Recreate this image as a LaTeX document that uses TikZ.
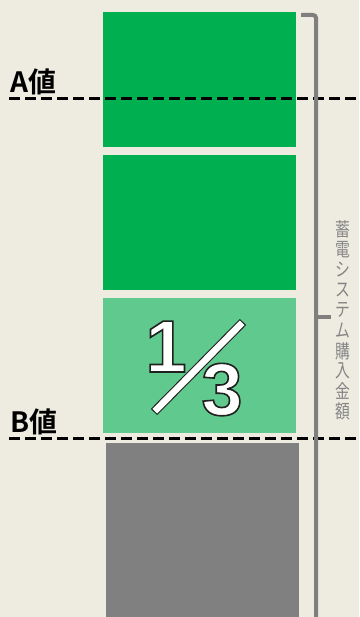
\documentclass[tikz,border=0pt]{standalone}
\usepackage{fontspec}
\setmainfont{Liberation Sans}
\newfontfamily\jpfont{Noto Sans CJK JP}[BoldFont={Noto Sans CJK JP Bold}]
\definecolor{bg}{HTML}{EEECE1}
\definecolor{darkgreen}{HTML}{00B050}
\definecolor{lightgreen}{HTML}{60C98D}
\definecolor{boxgray}{HTML}{808080}
\definecolor{brgray}{HTML}{7F7F7F}
\definecolor{txtgray}{HTML}{858585}
\definecolor{outl}{HTML}{202020}
\tikzset{
  thresh/.style={line width=3pt, black, dash pattern=on 11pt off 5pt},
  lvl/.style={inner sep=0pt, anchor=base west, font=\jpfont\bfseries\fontsize{28}{28}\selectfont},
  brace/.style={line width=4pt, brgray},
  vchar/.style={inner sep=0pt, text=txtgray, font=\jpfont\fontsize{19}{19}\selectfont},
  bigdigit/.style={inner sep=0pt, anchor=base, text=white, font=\bfseries\fontsize{74}{74}\selectfont},
}
\newcommand{\strokedtext}[1]{\special{pdf:literal direct 2 Tr 1.6 w 0.125 G}#1\special{pdf:literal direct 0 Tr}}
\begin{document}
\begin{tikzpicture}[x=1pt,y=-1pt]
\fill[bg] (0,0) rectangle (359,617);
\useasboundingbox (0,0) rectangle (359,617);
% bars
\fill[darkgreen] (103,12) rectangle (296,147);
\fill[darkgreen] (103,155) rectangle (296,290);
\fill[lightgreen] (103,298) rectangle (296,433);
\fill[boxgray] (106,443) rectangle (299,617);
% fraction
\coordinate (s1) at (154,412);
\coordinate (s2) at (243,322);
\node[bigdigit] (d1) at (166,372) {\strokedtext{1}};
\node[bigdigit] (d3) at (222,415) {\strokedtext{3}};
\draw[line width=8.8pt, outl] (s1) -- (s2);
\draw[line width=6.6pt, white, shorten <=1.1pt, shorten >=1.1pt] (s1) -- (s2);
% threshold lines
\coordinate (a1) at (9,99); \coordinate (a2) at (359,99);
\coordinate (b1) at (9,438); \coordinate (b2) at (359,438);
\draw[thresh] (a1) -- (a2);
\draw[thresh] (b1) -- (b2);
\node[lvl] (A) at (10,93) {A値};
\node[lvl] (B) at (10,432) {B値};
% bracket
\coordinate (h0) at (301,15);
\coordinate (h1) at (316,15);
\coordinate (h2) at (316,617);
\coordinate (t0) at (316,317);
\coordinate (t1) at (331,317);
\draw[brace, rounded corners=3pt] (h0) -- (h1) -- (h2);
\draw[brace] (t0) -- (t1);
% vertical label
\foreach \c [count=\i from 0] in {蓄,電,シ,ス,テ,ム,購,入,金,額}
  \node[vchar] (v\i) at (343,229+20.3*\i) {\scalebox{0.78}[1]{\c}};
\end{tikzpicture}
\end{document}
